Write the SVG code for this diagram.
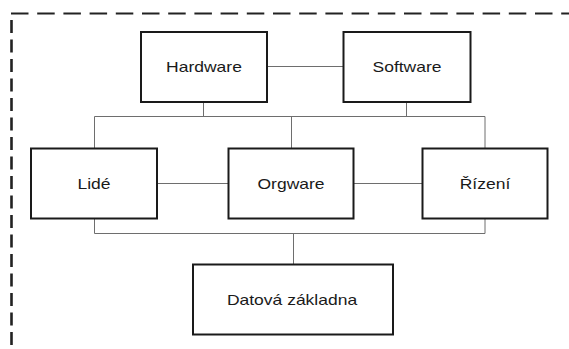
<svg xmlns="http://www.w3.org/2000/svg" width="569" height="349" viewBox="0 0 569 349">
  <style>
    .box { fill: #ffffff; stroke: #1a1a1a; stroke-width: 2; }
    .label { font-family: "Liberation Sans", Arial, sans-serif; font-size: 14px; fill: #1a1a1a; text-anchor: middle; }
    .link { fill: none; stroke: #6e6e6e; stroke-width: 1; }
    .frame { fill: none; stroke: #222222; }
  </style>
  <rect x="0" y="0" width="569" height="349" fill="#ffffff"/>

  <!-- dashed system boundary -->
  <g id="boundary">
    <line class="frame" x1="11" y1="13.5" x2="569" y2="13.5" stroke-width="2" stroke-dasharray="17.5 8.7"/>
    <line class="frame" x1="11.5" y1="20" x2="11.5" y2="349" stroke-width="2.6" stroke-dasharray="13 6.5"/>
  </g>

  <!-- connectors -->
  <g id="connectors">
    <line class="link" x1="267" y1="66.5" x2="343" y2="66.5"/>
    <line class="link" x1="203.5" y1="102" x2="203.5" y2="116.5"/>
    <line class="link" x1="406.5" y1="102" x2="406.5" y2="116.5"/>
    <line class="link" x1="94.5" y1="116.5" x2="485" y2="116.5"/>
    <line class="link" x1="94.5" y1="116.5" x2="94.5" y2="148"/>
    <line class="link" x1="291.5" y1="116.5" x2="291.5" y2="148"/>
    <line class="link" x1="485" y1="116.5" x2="485" y2="148"/>
    <line class="link" x1="157" y1="183.5" x2="228" y2="183.5"/>
    <line class="link" x1="354" y1="183.5" x2="422" y2="183.5"/>
    <line class="link" x1="94.5" y1="219" x2="94.5" y2="233.5"/>
    <line class="link" x1="485" y1="219" x2="485" y2="233.5"/>
    <line class="link" x1="94.5" y1="233.5" x2="485" y2="233.5"/>
    <line class="link" x1="293.5" y1="233.5" x2="293.5" y2="264"/>
  </g>

  <g id="hardware">
    <rect class="box" x="141" y="32" width="126" height="70"/>
    <text class="label" transform="translate(204 71.5) scale(1.25 1)">Hardware</text>
  </g>

  <g id="software">
    <rect class="box" x="343.5" y="32" width="127" height="70"/>
    <text class="label" transform="translate(407 71.5) scale(1.25 1)">Software</text>
  </g>

  <g id="lide">
    <rect class="box" x="31" y="148.5" width="126" height="70"/>
    <text class="label" transform="translate(94 188.5) scale(1.25 1)">Lidé</text>
  </g>

  <g id="orgware">
    <rect class="box" x="228.5" y="148.5" width="125" height="70"/>
    <text class="label" transform="translate(291 188.5) scale(1.25 1)">Orgware</text>
  </g>

  <g id="rizeni">
    <rect class="box" x="422.5" y="148.5" width="125" height="70"/>
    <text class="label" transform="translate(485 188.5) scale(1.25 1)">Řízení</text>
  </g>

  <g id="datova-zakladna">
    <rect class="box" x="193" y="264.5" width="200" height="70"/>
    <text class="label" transform="translate(292 305) scale(1.25 1)">Datová základna</text>
  </g>
</svg>
